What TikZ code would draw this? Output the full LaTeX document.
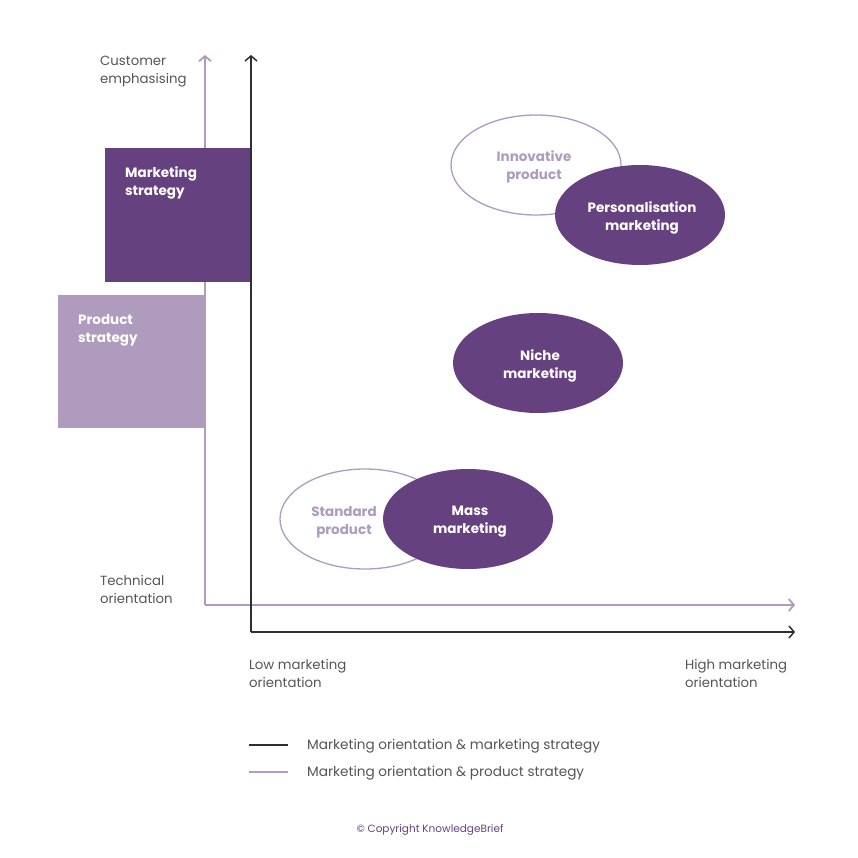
\documentclass[tikz,border=0pt]{standalone}
\usepackage{fontspec}
\setmainfont{Poppins}
\usetikzlibrary{arrows.meta,shapes.geometric}
\definecolor{dpurple}{HTML}{664180}
\definecolor{lpurple}{HTML}{AE9BBD}
\definecolor{axisdark}{HTML}{2E2E33}
\definecolor{greytext}{HTML}{555555}
\tikzset{
  lbl/.style={font=\fontsize{13.3}{18}\selectfont, text=greytext, align=left, anchor=west, inner sep=0pt},
  leglbl/.style={font=\fontsize{13.6}{18}\selectfont, text=greytext, align=left, anchor=west, inner sep=0pt},
  boxlbl/.style={font=\fontsize{13.5}{18}\selectfont\bfseries, text=white, align=left, anchor=west, inner sep=0pt},
  darkax/.style={draw=axisdark, line width=1.5pt, -{Straight Barb[length=5pt,width=12pt,line width=1.5pt]}},
  lightax/.style={draw=lpurple, line width=1.8pt, -{Straight Barb[length=5pt,width=12pt,line width=1.8pt]}},
  filledell/.style={ellipse, fill=dpurple, minimum width=170pt, minimum height=100pt, inner sep=0pt},
  openell/.style={ellipse, draw=lpurple, line width=1.3pt, fill=white, minimum width=170pt, minimum height=100pt, inner sep=0pt},
  elltext/.style={align=center, inner sep=0pt, font=\fontsize{13.5}{18}\selectfont\bfseries},
  stratbox/.style={rectangle, inner sep=0pt, anchor=north west}
}
\begin{document}
\begin{tikzpicture}[x=1pt,y=-1pt]
\useasboundingbox (0,0) rectangle (858,858);
% axes coordinates
\coordinate (lo) at (205,605);
\coordinate (ltop) at (205,55);
\coordinate (lright) at (795,605);
\coordinate (do) at (251,632);
\coordinate (dtop) at (251,55);
\coordinate (dright) at (795,632);
% light axes
\draw[lightax] (lo) -- (ltop);
\draw[lightax] (lo) -- (lright);
% strategy boxes
\node[stratbox, fill=dpurple, minimum width=146pt, minimum height=134pt] (mbox) at (105,148) {};
\node[stratbox, fill=lpurple, minimum width=147pt, minimum height=133pt] (pbox) at (58,295) {};
\node[boxlbl] (mtext) at (125,183) {Marketing\\strategy};
\node[boxlbl] (ptext) at (78,330) {Product\\strategy};
% dark axes
\draw[darkax] (do) -- (dtop);
\draw[darkax] (do) -- (dright);
% axis labels
\node[lbl] (cust) at (100,72) {Customer\\emphasising};
\node[lbl] (tech) at (100,589) {Technical\\orientation};
\node[lbl] (low) at (249,673) {Low marketing\\orientation};
\node[lbl] (high) at (685,673) {High marketing\\orientation};
% ellipses
\node[openell] (innov) at (536,165) {};
\node[elltext, text=lpurple] (innovt) at (534,167) {Innovative\\product};
\node[filledell] (pers) at (640,215) {};
\node[elltext, text=white] (perst) at (642,218) {Personalisation\\marketing};
\node[filledell] (niche) at (538,363) {};
\node[elltext, text=white] (nichet) at (540,366) {Niche\\marketing};
\node[openell] (std) at (365,519) {};
\node[filledell] (mass) at (468,519) {};
\node[elltext, text=lpurple] (stdt) at (344,522) {Standard\\product};
\node[elltext, text=white] (masst) at (470,522) {Mass\\marketing};
% legend
\coordinate (l1a) at (249,745);
\coordinate (l1b) at (288,745);
\coordinate (l2a) at (249,772);
\coordinate (l2b) at (288,772);
\draw[axisdark, line width=1.5pt] (l1a) -- (l1b);
\draw[lpurple, line width=1.8pt] (l2a) -- (l2b);
\node[leglbl] (leg1) at (307,746) {Marketing orientation \& marketing strategy};
\node[leglbl] (leg2) at (307,773) {Marketing orientation \& product strategy};
\node[font=\fontsize{10.5}{12}\selectfont, text=dpurple, inner sep=0pt] (copy) at (430,830) {© Copyright KnowledgeBrief};
\end{tikzpicture}
\end{document}
